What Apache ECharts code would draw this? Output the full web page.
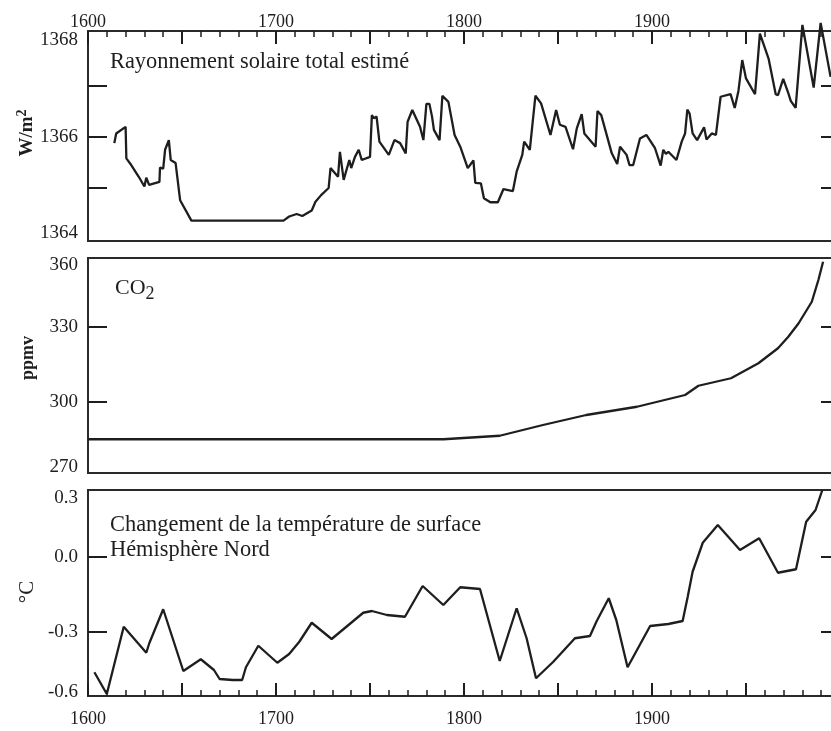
<!DOCTYPE html>
<html><head><meta charset="utf-8">
<script src="https://cdn.jsdelivr.net/npm/echarts@6/dist/echarts.min.js"></script>
<style>html,body{margin:0;padding:0;overflow:hidden;background:#fff}#c{width:850px;height:731px}</style>
</head><body><div id="c"></div><script>
// ---- data ----
const xLabelYears = [1600, 1700, 1800, 1900];

const solarYears = [1614,1615,1620,1620.4,1623,1627,1630,1631,1632.5,1638,1638.3,1640,1641,1643,1644,1646.6,1649,1655,1704,1707,1711,1714,1719,1721,1724,1728,1729,1733,1734,1736,1739,1740,1742,1744,1745.6,1750,1751,1752,1753.5,1755,1760,1763,1766,1769,1770,1772.5,1776.6,1778.4,1780,1781.6,1783,1784,1787,1788.5,1791.7,1795,1798,1802,1805,1806,1809,1810.6,1814,1818,1821,1826,1828,1831,1832,1835,1838,1841,1846,1849,1851,1854,1858,1860,1862.6,1864,1870,1871,1873,1878.6,1881.5,1883,1886.5,1888,1890,1893.6,1897,1901.6,1904.6,1906,1907.4,1908.7,1913,1915.8,1917.6,1918.8,1920,1921.6,1924,1927.7,1929,1931.8,1934,1936.5,1941.8,1944,1946,1948,1950,1954.8,1957.4,1962,1965.8,1967,1969.8,1972.5,1973.8,1976.4,1980,1986,1989.7,1995];
const solarValues = [1365.88,1366.07,1366.2,1365.58,1365.45,1365.22,1365.03,1365.2,1365.06,1365.12,1365.4,1365.38,1365.75,1365.94,1365.55,1365.49,1364.76,1364.36,1364.36,1364.44,1364.49,1364.45,1364.56,1364.73,1364.86,1365.0,1365.39,1365.22,1365.71,1365.16,1365.55,1365.39,1365.61,1365.75,1365.55,1365.61,1366.43,1366.37,1366.4,1365.91,1365.65,1365.94,1365.88,1365.68,1366.3,1366.53,1366.2,1365.94,1366.65,1366.65,1366.4,1366.14,1365.94,1366.81,1366.69,1366.04,1365.81,1365.39,1365.54,1365.1,1365.09,1364.8,1364.72,1364.72,1364.98,1364.94,1365.32,1365.65,1365.91,1365.75,1366.81,1366.66,1366.04,1366.53,1366.24,1366.2,1365.76,1366.17,1366.45,1366.07,1365.81,1366.51,1366.43,1365.68,1365.47,1365.81,1365.65,1365.45,1365.45,1365.97,1366.04,1365.78,1365.44,1365.75,1365.67,1365.71,1365.55,1365.91,1366.07,1366.54,1366.46,1366.07,1365.94,1366.19,1365.95,1366.07,1366.04,1366.79,1366.84,1366.57,1366.91,1367.51,1367.15,1366.84,1368.03,1367.54,1366.84,1366.82,1367.14,1366.86,1366.71,1366.57,1368.2,1366.97,1368.24,1367.18];

const co2Years = [1600,1789,1819,1842,1865,1892,1917.6,1924.7,1942,1956.6,1967,1972.5,1978,1985,1988.5,1991];
const co2Values = [285.1,285.1,286.5,290.8,294.8,298.1,302.8,306.5,309.5,315.5,321.5,326.1,331.5,340.1,348.8,356.1];

const tempYears = [1603.4,1610,1619,1631,1632.6,1640,1650.7,1660,1667,1670,1677,1682,1684,1690.6,1700.7,1707,1712.4,1719,1729.6,1746.4,1751,1759,1768.6,1778,1789,1798,1808.5,1819,1828,1833.3,1838.3,1847.5,1859,1867,1870.6,1877,1881,1887,1899,1908.7,1916.3,1919,1921.6,1927,1935,1946.8,1957,1967,1976.6,1982,1987,1990.6];
const tempValues = [-0.461,-0.548,-0.279,-0.383,-0.345,-0.209,-0.456,-0.409,-0.452,-0.488,-0.492,-0.492,-0.441,-0.355,-0.423,-0.388,-0.339,-0.263,-0.328,-0.223,-0.216,-0.232,-0.239,-0.116,-0.192,-0.121,-0.128,-0.416,-0.205,-0.325,-0.485,-0.419,-0.325,-0.316,-0.256,-0.165,-0.252,-0.441,-0.276,-0.268,-0.256,-0.159,-0.059,0.057,0.128,0.028,0.075,-0.063,-0.049,0.141,0.188,0.268];

const solarTicks = [1365, 1366, 1367];
const solarLabels = ['1364', '1366', '1368'];
const co2Ticks = [300, 330];
const co2Labels = ['270', '300', '330', '360'];
const tempTicks = [-0.3, 0];
const tempLabels = ['-0.6', '-0.3', '0.0', '0.3'];

// ---- chart ----
const FONT = '"Liberation Serif","Times New Roman",serif';
const INK = '#1e1e1e';
const X_MIN = 1600, X_MAX = 2000;

const grids = [
  {left: 88, right: 10, top: 31, height: 210},
  {left: 88, right: 10, top: 258, height: 215},
  {left: 88, right: 10, top: 490, height: 206}
].map(g => Object.assign(g, {show: true, borderColor: '#2a2a2a', borderWidth: 2, backgroundColor: 'transparent', containLabel: false}));

function xAxis(gi, pos, show) {
  return {
    type: 'value', gridIndex: gi, position: pos, min: X_MIN, max: X_MAX, interval: 50,
    show: show,
    axisLine: {show: false, onZero: false}, splitLine: {show: false},
    axisTick: {show: true, inside: true, length: 13, lineStyle: {color: INK, width: 2}},
    minorTick: {show: true, splitNumber: 5, length: 6, lineStyle: {color: INK, width: 1.5}},
    axisLabel: {customValues: xLabelYears, color: INK, fontFamily: FONT, fontSize: 18,
      margin: pos === 'top' ? 0 : 14, formatter: v => String(v)}
  };
}

function yAxes(gi, min, max, ticks, labelPos, labels, padT, padB) {
  const rich = {
    t: {fontFamily: FONT, fontSize: 19, color: INK, padding: [padT, 0, 0, 0]},
    b: {fontFamily: FONT, fontSize: 19, color: INK, padding: [0, 0, padB, 0]},
    m: {fontFamily: FONT, fontSize: 19, color: INK}
  };
  const left = {
    type: 'value', gridIndex: gi, position: 'left', min: min, max: max,
    axisLine: {show: false, onZero: false}, splitLine: {show: false},
    axisTick: {show: true, inside: true, length: 19, customValues: ticks, lineStyle: {color: INK, width: 2}},
    axisLabel: {customValues: labelPos, margin: 10, color: INK, fontFamily: FONT, fontSize: 19, rich: rich,
      formatter: v => {
        let best = 0;
        labelPos.forEach((p, i) => { if (Math.abs(p - v) < Math.abs(labelPos[best] - v)) best = i; });
        const tag = best === labelPos.length - 1 ? 't' : (best === 0 ? 'b' : 'm');
        return '{' + tag + '|' + labels[best] + '}';
      }}
  };
  const right = {
    type: 'value', gridIndex: gi, position: 'right', min: min, max: max,
    axisLine: {show: false, onZero: false}, splitLine: {show: false},
    axisTick: {show: true, inside: true, length: 19, customValues: ticks, lineStyle: {color: INK, width: 2}},
    axisLabel: {show: false}
  };
  return [left, right];
}

const sMin = 1363.96, sMax = 1368.08;
const cMin = 271.6, cMax = 357.6;
const tMin = -0.556, tMax = 0.268;

const yAxisList = [].concat(
  yAxes(0, sMin, sMax, solarTicks, [1364, 1366, 1368], solarLabels, 10, 12),
  yAxes(1, cMin, cMax, co2Ticks, [cMin, 300, 330, cMax], co2Labels, 14, 12),
  yAxes(2, tMin, tMax, tempTicks, [tMin, -0.3, 0, tMax], tempLabels, 16, 8)
);

function lineSeries(xi, yi, xs, ys) {
  return {
    type: 'line', xAxisIndex: xi, yAxisIndex: yi,
    data: xs.map((x, i) => [x, ys[i]]),
    showSymbol: false, symbol: 'none', clip: false, smooth: false,
    lineStyle: {color: INK, width: 2.3}, animation: false
  };
}

function txt(x, y, text, font) {
  return {
    type: 'text', x: x, y: y, silent: true,
    style: {text: text, font: font, fill: INK, textAlign: 'left', textVerticalAlign: 'middle', align: 'left', verticalAlign: 'middle'}
  };
}
function vtxt(x, y, text, font, rich) {
  return {
    type: 'text', x: x, y: y, rotation: Math.PI / 2, silent: true,
    style: {text: text, font: font, fill: INK, rich: rich, textAlign: 'center', textVerticalAlign: 'middle', align: 'center', verticalAlign: 'middle'}
  };
}

const chart = echarts.init(document.getElementById('c'), null, {renderer: 'canvas'});
chart.setOption({
  animation: false,
  backgroundColor: '#ffffff',
  grid: grids,
  xAxis: [xAxis(0, 'top', true), xAxis(1, 'bottom', false), xAxis(2, 'bottom', true)],
  yAxis: yAxisList,
  series: [
    lineSeries(0, 0, solarYears, solarValues),
    lineSeries(1, 2, co2Years, co2Values),
    lineSeries(2, 4, tempYears, tempValues)
  ],
  graphic: [
    txt(110, 62, 'Rayonnement solaire total estimé', '22.4px ' + FONT),
    {
      type: 'text', x: 115, y: 288, silent: true,
      style: {
        text: '{a|CO}{b|2}', fill: INK, textAlign: 'left', textVerticalAlign: 'middle', align: 'left', verticalAlign: 'middle',
        rich: {a: {fontFamily: FONT, fontSize: 22, fill: INK, color: INK}, b: {fontFamily: FONT, fontSize: 18, fill: INK, color: INK, padding: [12, 0, 0, 0]}}
      }
    },
    txt(110, 525, 'Changement de la température de surface', '22.4px ' + FONT),
    txt(110, 550, 'Hémisphère Nord', '22.4px ' + FONT),
    vtxt(27, 133, '{a|W/m}{s|2}', 'bold 19px ' + FONT, {
      a: {fontFamily: FONT, fontWeight: 'bold', fontSize: 19, fill: INK, color: INK},
      s: {fontFamily: FONT, fontWeight: 'bold', fontSize: 14, fill: INK, color: INK, padding: [0, 0, 10, 0]}
    }),
    vtxt(28, 358, 'ppmv', 'bold 18px ' + FONT),
    vtxt(27, 592, '°C', '21px ' + FONT)
  ]
});
</script></body></html>
